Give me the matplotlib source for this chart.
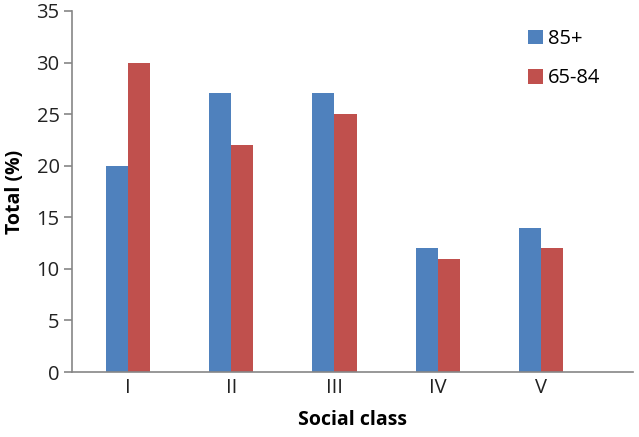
import numpy as np
import matplotlib.pyplot as plt

plt.rcParams['font.family'] = ['Open Sans', 'DejaVu Sans']

classes = ['I', 'II', 'III', 'IV', 'V']
age_85 = [20, 27, 27, 12, 14]
age_65_84 = [30, 22, 25, 11, 12]
series_labels = ['85+', '65-84']

blue = '#4F81BD'
red = '#C0504D'
grey = '#868686'

fig = plt.figure(figsize=(6.39, 4.37), dpi=100)
ax = fig.add_axes([0.1127, 0.1487, 0.878, 0.8263])

x = np.arange(len(classes))
w = 0.215
ax.bar(x - w / 2, age_85, w, color=blue, label=series_labels[0])
ax.bar(x + w / 2, age_65_84, w, color=red, label=series_labels[1])

ax.set_xlim(-0.54, 4.89)
ax.set_ylim(0, 35)
ax.set_yticks(range(0, 36, 5))
ax.set_xticks(x)
ax.set_xticklabels(classes)

for s in ['top', 'right']:
    ax.spines[s].set_visible(False)
for s in ['left', 'bottom']:
    ax.spines[s].set_color(grey)
    ax.spines[s].set_linewidth(1.2)

ax.tick_params(axis='y', length=6, width=1.2, colors=grey, labelcolor='#222222', labelsize=14.5, pad=3)
ax.tick_params(axis='x', length=0, labelsize=14.5, labelcolor='#222222', pad=4)

ax.set_xlabel('Social class', fontsize=14, fontweight='bold', labelpad=9)
ax.set_ylabel('Total (%)', fontsize=14, fontweight='bold', labelpad=8)

ax.legend(loc='upper left', bbox_to_anchor=(0.78, 1.0), frameon=False, fontsize=14.5,
          handlelength=0.75, handleheight=0.75, handletextpad=0.25, labelspacing=0.95)

fig.savefig('out.png', dpi=100)
